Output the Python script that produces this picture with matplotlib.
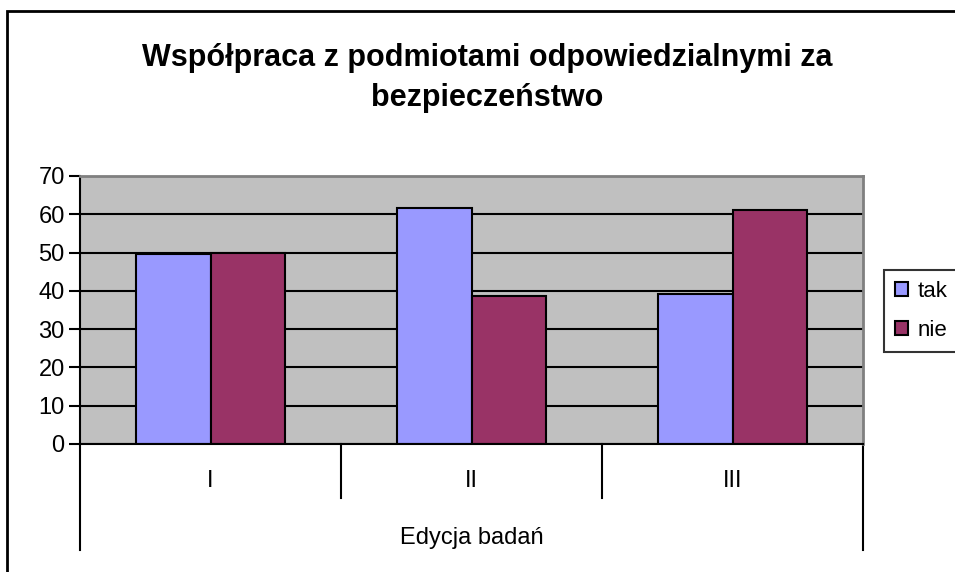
import matplotlib
matplotlib.use('Agg')
import matplotlib.pyplot as plt
import matplotlib.transforms as mtransforms
from matplotlib.patches import Rectangle
import numpy as np

plt.rcParams['font.family'] = ['Liberation Sans', 'DejaVu Sans']

categories = ['I', 'II', 'III']
tak = [49.5, 61.7, 39.2]
nie = [50.0, 38.6, 61.2]
title = 'Współpraca z podmiotami odpowiedzialnymi za\nbezpieczeństwo'
xlabel = 'Edycja badań'


def main():
    fig = plt.figure(figsize=(9.55, 5.72), dpi=100)
    ax = fig.add_axes([80 / 955, 1 - 444 / 572, 783 / 955, 268 / 572])
    ax.set_facecolor('#c0c0c0')

    x = np.arange(len(categories))
    w = 0.287
    b1 = ax.bar(x - w / 2, tak, w, color='#9999ff', edgecolor='black', linewidth=1.5, label='tak', zorder=3)
    b2 = ax.bar(x + w / 2, nie, w, color='#993366', edgecolor='black', linewidth=1.5, label='nie', zorder=3)

    ax.set_xlim(-0.5, 2.5)
    ax.set_ylim(0, 70)
    ax.set_yticks(range(0, 71, 10))
    ax.yaxis.grid(True, color='black', linewidth=1.5, zorder=1)
    ax.set_axisbelow(True)
    ax.tick_params(axis='y', labelsize=17, length=8, width=1.5, direction='out', pad=3)
    ax.set_xticks([])

    ax.spines['top'].set_color('#808080')
    ax.spines['right'].set_color('#808080')
    ax.spines['top'].set_linewidth(2)
    ax.spines['right'].set_linewidth(2)
    ax.spines['left'].set_linewidth(1.5)
    ax.spines['bottom'].set_linewidth(1.5)
    ax.spines['bottom'].set_zorder(4)

    # category separators under the axis
    trans = mtransforms.blended_transform_factory(ax.transData, ax.transAxes)
    for i, sep in enumerate([-0.5, 0.5, 1.5, 2.5]):
        bottom = -0.3955 if i in (0, 3) else -0.2015
        ax.plot([sep, sep], [0, bottom], color='black', linewidth=1.5, transform=trans, clip_on=False)

    for xi, cat in zip(x, categories):
        ax.text(xi, -0.138, cat, transform=trans, ha='center', va='center', fontsize=17)
    ax.text(1, -0.35, xlabel, transform=trans, ha='center', va='center', fontsize=17)

    fig.text(0.51, 1 - 78 / 572, title, ha='center', va='center', fontsize=22,
             fontweight='bold', linespacing=1.45)

    leg = fig.legend(handles=[b1, b2], loc='upper left', bbox_to_anchor=(884 / 955, 1 - 270 / 572),
                     fontsize=16, frameon=True, fancybox=False, handlelength=0.6, handleheight=0.6,
                     handletextpad=0.4, borderpad=0.5, labelspacing=0.8, borderaxespad=0)
    leg.get_frame().set_edgecolor('black')
    leg.get_frame().set_linewidth(1.5)

    fig.patches.append(Rectangle((7 / 955, -0.1), 1.2, 1.1 - 11 / 572, transform=fig.transFigure,
                                 fill=False, edgecolor='black', linewidth=2))

    fig.savefig('out.png', dpi=100)


if __name__ == '__main__':
    main()
